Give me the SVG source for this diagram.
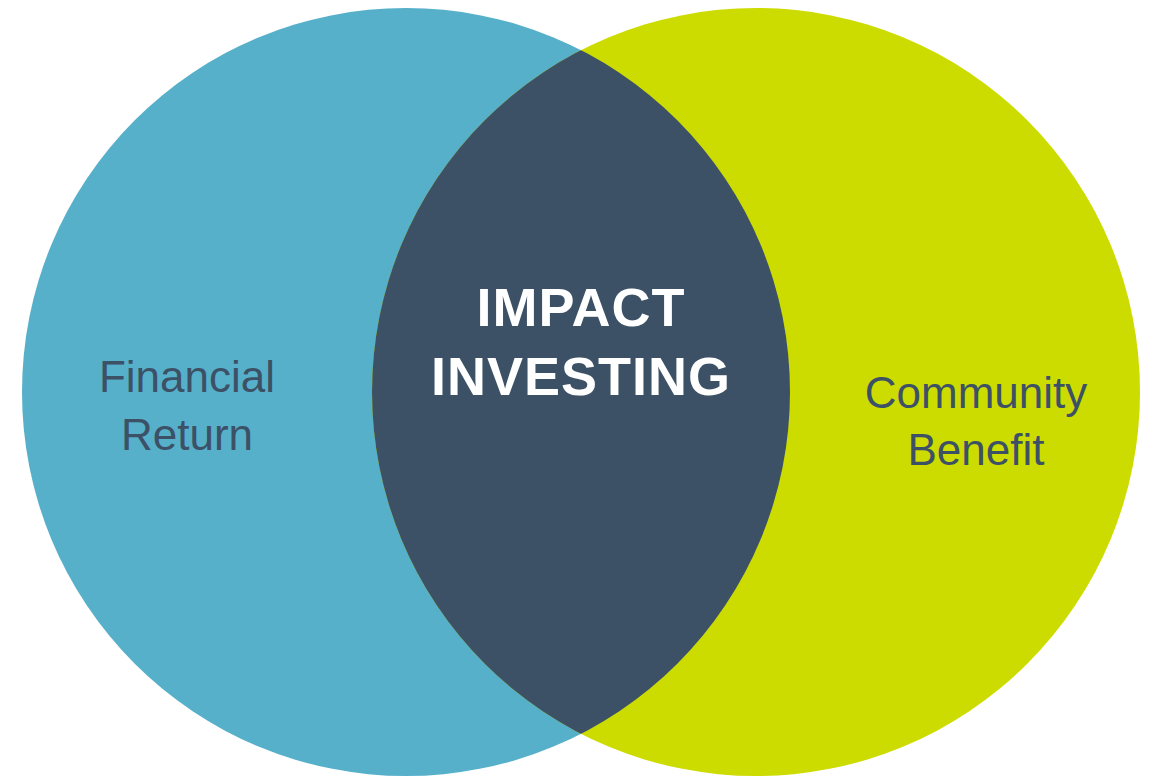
<svg xmlns="http://www.w3.org/2000/svg" width="1155" height="778" viewBox="0 0 1155 778">
  <style>
    .label { font-family: "Liberation Sans", Arial, sans-serif; font-size: 44px; fill: #3D5166; text-anchor: middle; }
    .core { font-family: "Liberation Sans", Arial, sans-serif; font-size: 54px; font-weight: bold; fill: #FFFFFF; text-anchor: middle; letter-spacing: 1px; }
  </style>
  <defs>
    <!-- the left circle, used to cut the overlap out of the right one -->
    <clipPath id="clip-left">
      <circle cx="406" cy="392" r="384"/>
    </clipPath>
  </defs>
  <rect width="1155" height="778" fill="#FFFFFF"/>
  <g id="financial-return">
    <circle cx="406" cy="392" r="384" fill="#56B0CA"/>
    <text class="label" x="187" y="392">Financial</text>
    <text class="label" x="187" y="450">Return</text>
  </g>
  <g id="community-benefit">
    <circle cx="756" cy="392" r="384" fill="#CDDC00"/>
    <text class="label" x="976" y="408">Community</text>
    <text class="label" x="976" y="465">Benefit</text>
  </g>
  <g id="impact-investing">
    <circle cx="756" cy="392" r="384" fill="#3D5166" clip-path="url(#clip-left)"/>
    <text class="core" x="581" y="326">IMPACT</text>
    <text class="core" x="581" y="395">INVESTING</text>
  </g>
  <g id="connectors"/>
</svg>
